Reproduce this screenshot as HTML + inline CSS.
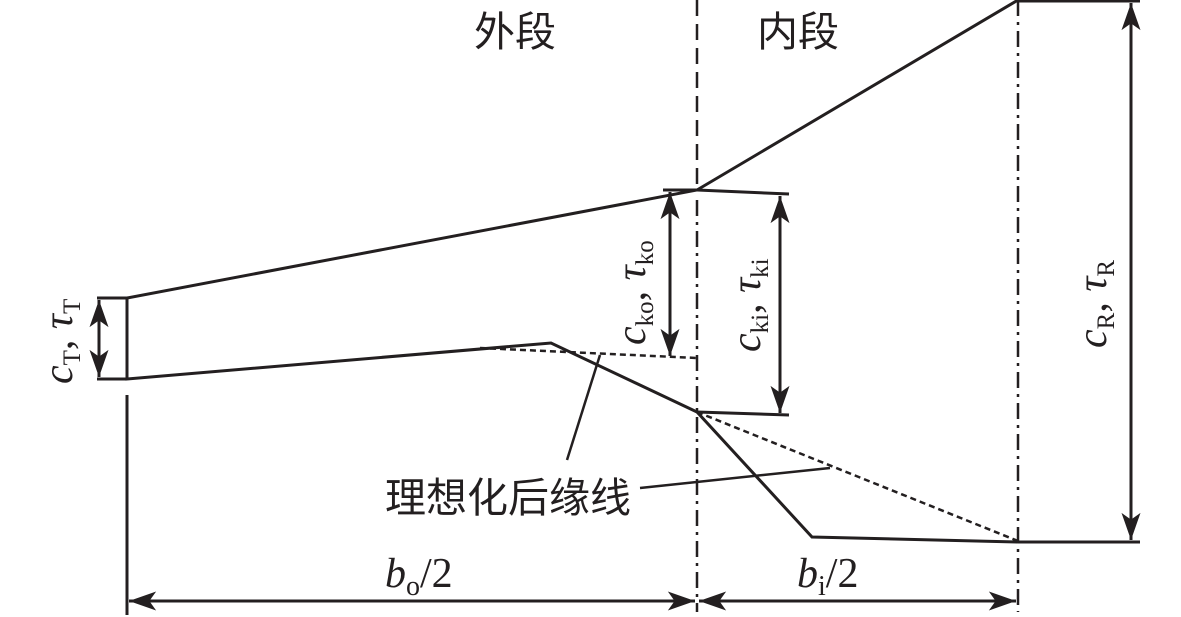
<!DOCTYPE html>
<html><head><meta charset="utf-8"><style>
html,body{margin:0;padding:0;background:#fff;width:1181px;height:617px;overflow:hidden}
text{font-family:"Liberation Serif","Noto Serif CJK SC",serif;fill:#231f20}
.cj{font-family:"Liberation Sans","Noto Sans CJK SC",sans-serif}
</style></head><body>
<svg width="1181" height="617" viewBox="0 0 1181 617" xmlns="http://www.w3.org/2000/svg">
<defs>
<marker id="b" viewBox="0 0 20 14" refX="20" refY="7" markerWidth="28" markerHeight="19" orient="auto-start-reverse" markerUnits="userSpaceOnUse"><path d="M0,0L20,7L0,14L5,7z" fill="#231f20"/></marker>
</defs>
<g stroke="#231f20" stroke-width="3" fill="none">
<polyline points="127,298 697,190 1018,0"/>
<polyline points="127,298 127,379 551,343 697,412 812,537 1018,542"/>
<line x1="97" y1="298" x2="127" y2="298"/><line x1="97" y1="379" x2="127" y2="379"/>
<line x1="663" y1="190" x2="697" y2="190"/>
<line x1="697" y1="190" x2="789" y2="194"/><line x1="697" y1="412" x2="789" y2="415"/>
<line x1="1018" y1="1" x2="1140" y2="1"/><line x1="1018" y1="542" x2="1140" y2="542"/>
<line x1="127" y1="395" x2="127" y2="615"/>
<line x1="99" y1="300" x2="99" y2="377" marker-start="url(#b)" marker-end="url(#b)"/>
<line x1="670" y1="192" x2="670" y2="356" marker-start="url(#b)" marker-end="url(#b)"/>
<line x1="780" y1="196" x2="780" y2="413" marker-start="url(#b)" marker-end="url(#b)"/>
<line x1="1131" y1="3" x2="1131" y2="540" marker-start="url(#b)" marker-end="url(#b)"/>
<line x1="129" y1="601" x2="695" y2="601" marker-start="url(#b)" marker-end="url(#b)"/>
<line x1="699" y1="601" x2="1016" y2="601" marker-start="url(#b)" marker-end="url(#b)"/>
<line x1="600" y1="355" x2="567" y2="460" stroke-width="2.5"/>
<line x1="640" y1="488" x2="830" y2="468" stroke-width="2.5"/>
</g>
<g stroke="#231f20" stroke-width="2.5" fill="none" stroke-dasharray="6,4">
<polyline points="480,348 697,358"/>
<polyline points="697,412 1018,541"/>
</g>
<line x1="697" y1="0" x2="697" y2="185" stroke="#231f20" stroke-width="2.5" stroke-dasharray="16,8"/>
<line x1="697" y1="200" x2="697" y2="612" stroke="#231f20" stroke-width="2.5" stroke-dasharray="16,6,3,6"/>
<line x1="1018" y1="0" x2="1018" y2="612" stroke="#231f20" stroke-width="2.5" stroke-dasharray="16,6,3,6"/>
<text class="cj" x="474" y="46" font-size="41">外段</text>
<text class="cj" x="757" y="46" font-size="41">内段</text>
<text class="cj" x="385" y="512" font-size="41">理想化后缘线</text>
<text x="385" y="587" font-size="42"><tspan font-style="italic">b</tspan><tspan font-size="28" dy="8">o</tspan><tspan dy="-8">/2</tspan></text>
<text x="797" y="587" font-size="42"><tspan font-style="italic">b</tspan><tspan font-size="28" dy="8">i</tspan><tspan dy="-8">/2</tspan></text>
<text transform="translate(72,384) rotate(-90)" font-size="42"><tspan font-style="italic">c</tspan><tspan font-size="25" dy="8">T</tspan><tspan dy="-8">, </tspan><tspan font-style="italic">τ</tspan><tspan font-size="25" dy="8">T</tspan></text>
<text transform="translate(645,345) rotate(-90)" font-size="42"><tspan font-style="italic">c</tspan><tspan font-size="25" dy="8">ko</tspan><tspan dy="-8">, </tspan><tspan font-style="italic">τ</tspan><tspan font-size="25" dy="8">ko</tspan></text>
<text transform="translate(760,352) rotate(-90)" font-size="42"><tspan font-style="italic">c</tspan><tspan font-size="25" dy="8">ki</tspan><tspan dy="-8">, </tspan><tspan font-style="italic">τ</tspan><tspan font-size="25" dy="8">ki</tspan></text>
<text transform="translate(1106,348) rotate(-90)" font-size="42"><tspan font-style="italic">c</tspan><tspan font-size="25" dy="8">R</tspan><tspan dy="-8">, </tspan><tspan font-style="italic">τ</tspan><tspan font-size="25" dy="8">R</tspan></text>
</svg>
</body></html>
